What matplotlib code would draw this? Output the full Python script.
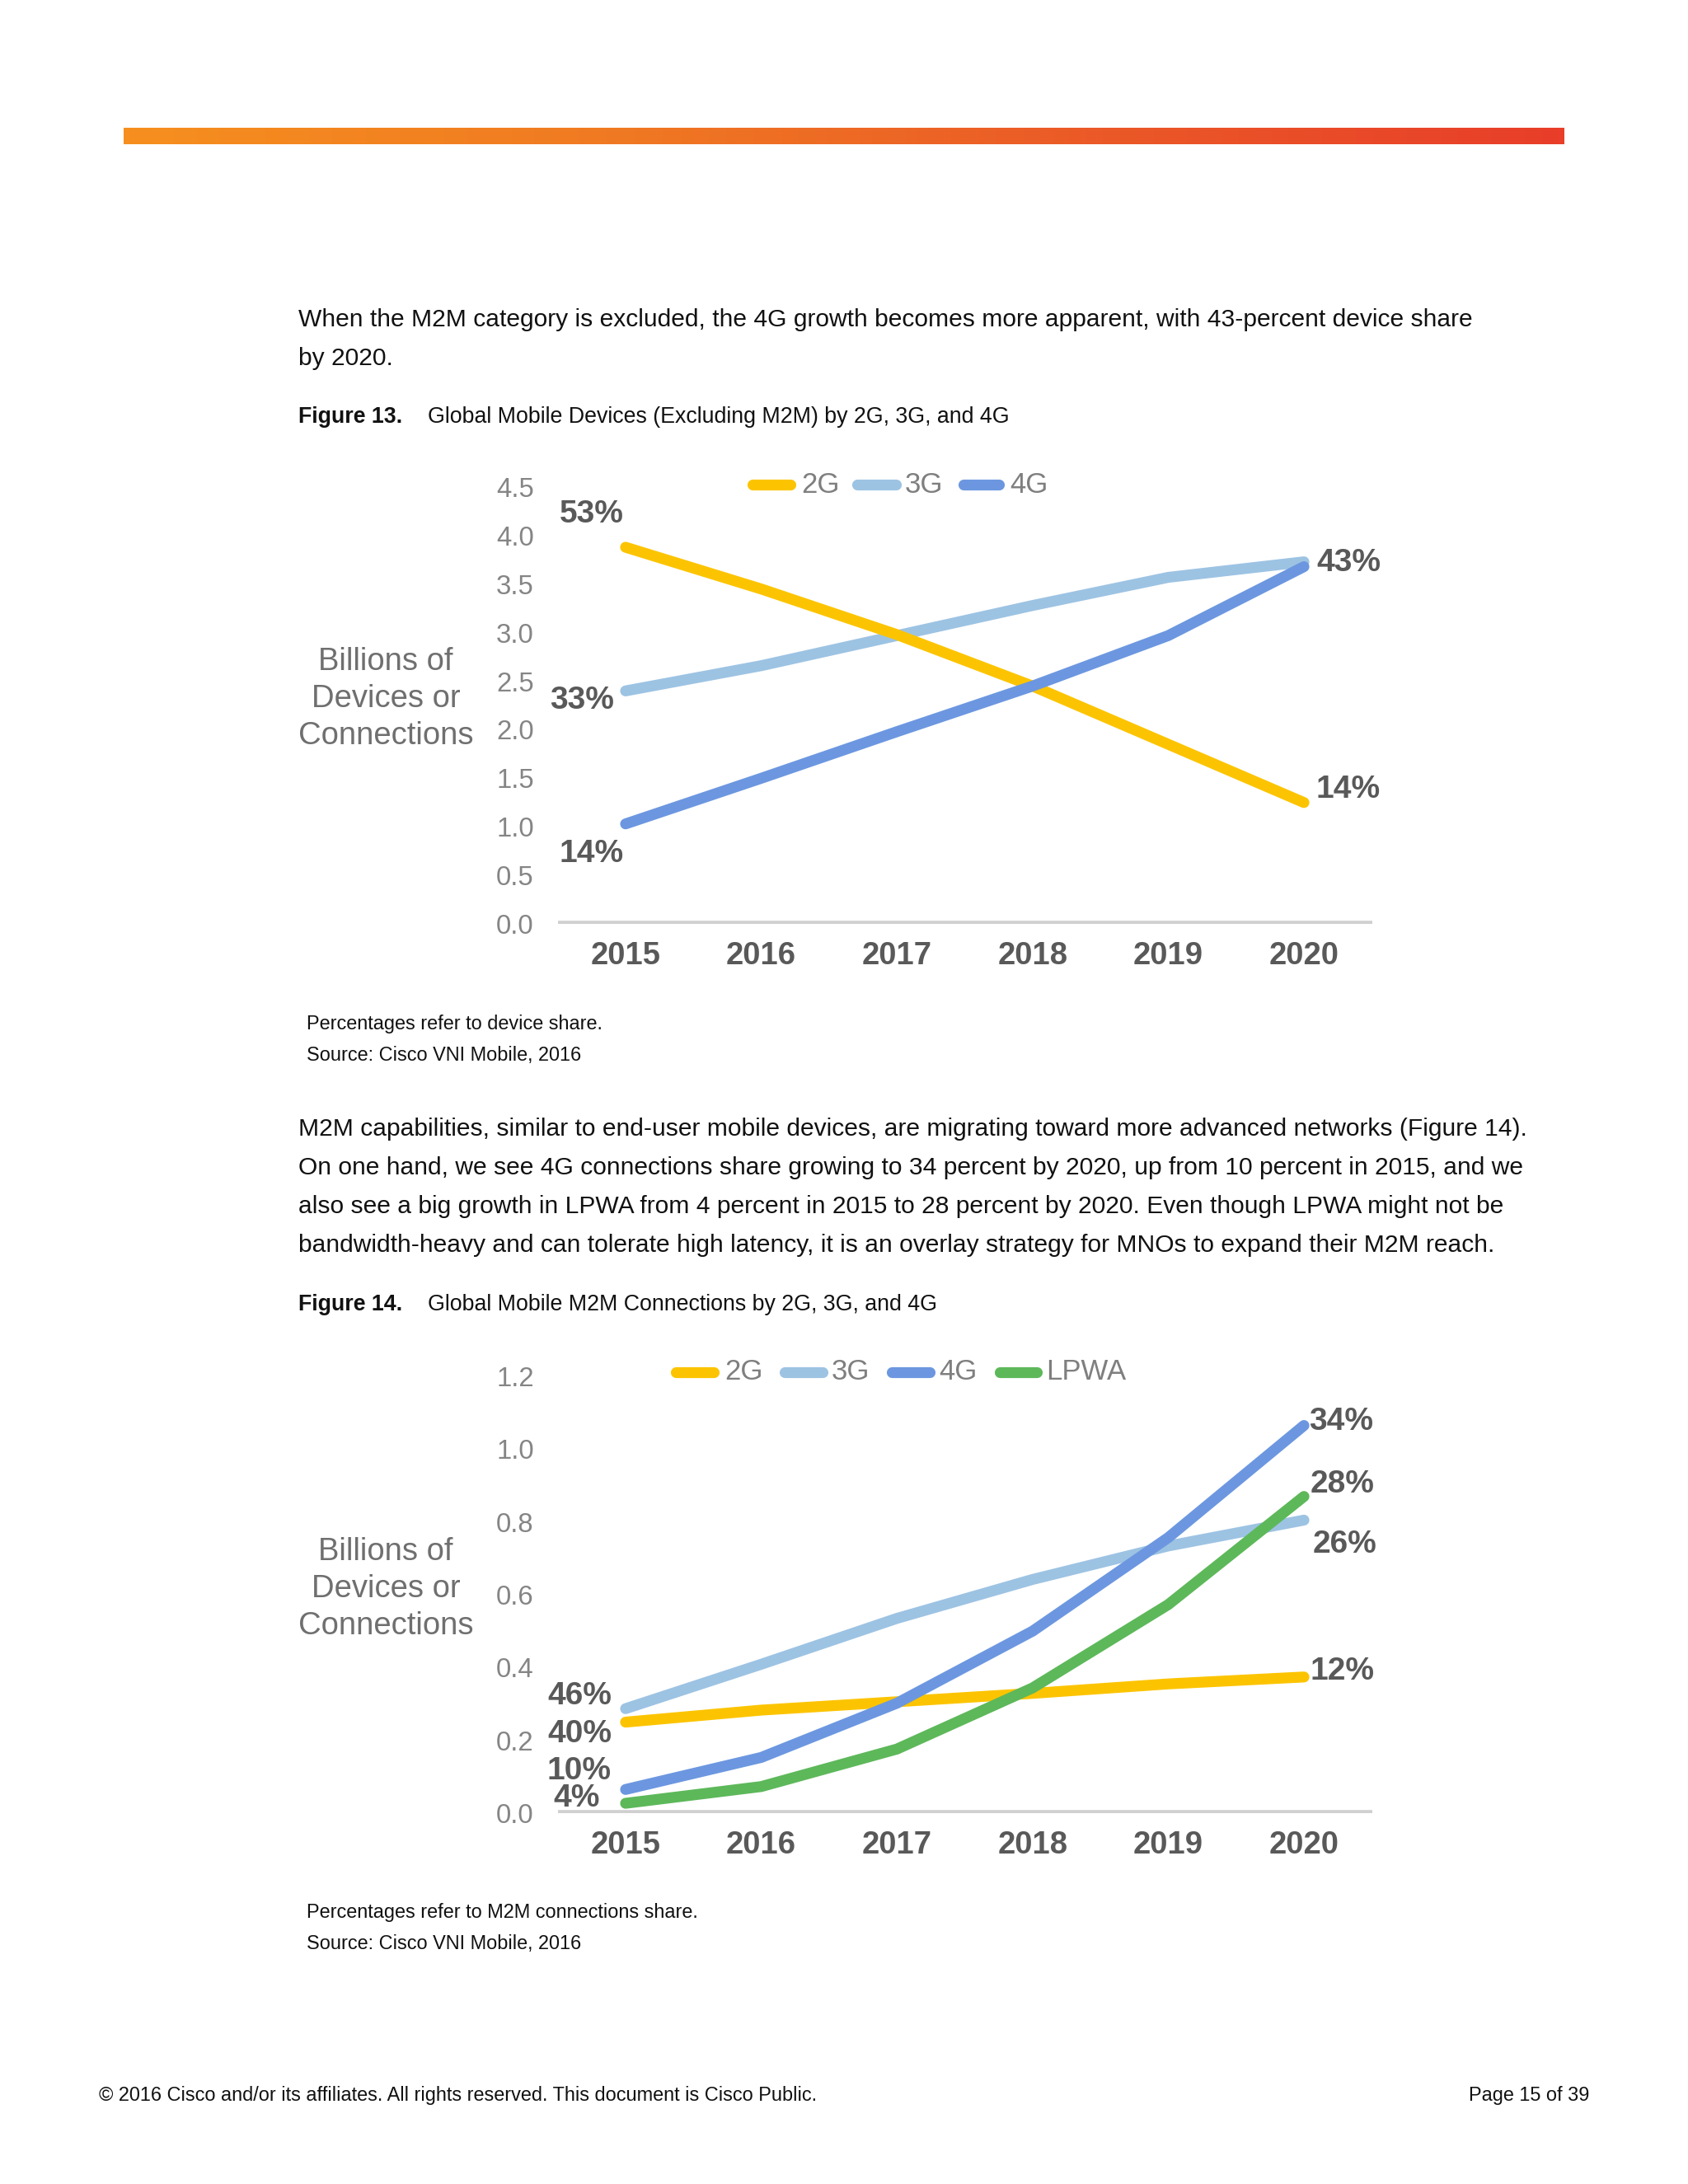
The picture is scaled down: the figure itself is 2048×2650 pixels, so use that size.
import matplotlib
matplotlib.use("Agg")
import matplotlib.pyplot as plt
import numpy as np
from matplotlib.lines import Line2D
from matplotlib.colors import LinearSegmentedColormap

plt.rcParams['font.family'] = ['Liberation Sans', 'DejaVu Sans']

W, H = 2048, 2650

# ---------------- data ----------------
years = [2015, 2016, 2017, 2018, 2019, 2020]

fig13_series = ["2G", "3G", "4G"]
fig13_2g = [3.88, 3.45, 2.98, 2.45, 1.85, 1.25]
fig13_3g = [2.40, 2.66, 2.97, 3.28, 3.57, 3.73]
fig13_4g = [1.03, 1.50, 1.98, 2.45, 2.97, 3.68]
fig13_yticks = [0.0, 0.5, 1.0, 1.5, 2.0, 2.5, 3.0, 3.5, 4.0, 4.5]

fig14_series = ["2G", "3G", "4G", "LPWA"]
fig14_2g = [0.25, 0.283, 0.306, 0.329, 0.355, 0.374]
fig14_3g = [0.287, 0.409, 0.535, 0.642, 0.734, 0.805]
fig14_4g = [0.065, 0.153, 0.302, 0.50, 0.757, 1.065]
fig14_lpwa = [0.027, 0.073, 0.176, 0.344, 0.573, 0.870]
fig14_yticks = [0.0, 0.2, 0.4, 0.6, 0.8, 1.0, 1.2]

colors = {"2G": "#FCC400", "3G": "#9DC3E3", "4G": "#6C97E0", "LPWA": "#5DB85A"}

para1 = ["When the M2M category is excluded, the 4G growth becomes more apparent, with 43-percent device share",
         "by 2020."]
para2 = ["M2M capabilities, similar to end-user mobile devices, are migrating toward more advanced networks (Figure 14).",
         "On one hand, we see 4G connections share growing to 34 percent by 2020, up from 10 percent in 2015, and we",
         "also see a big growth in LPWA from 4 percent in 2015 to 28 percent by 2020. Even though LPWA might not be",
         "bandwidth-heavy and can tolerate high latency, it is an overlay strategy for MNOs to expand their M2M reach."]

# ---------------- helpers ----------------
fig = plt.figure(figsize=(W / 100, H / 100), dpi=100)
fig.patch.set_facecolor("white")


def fx(x):
    return x / W


def fy(y):
    return 1 - y / H


def ftext(x, y, s, **kw):
    fig.text(fx(x), fy(y), s, **kw)


def add_axes_px(left, top, right, bottom):
    return fig.add_axes([fx(left), fy(bottom), (right - left) / W, (bottom - top) / H])


# ---------------- header bar ----------------
bar = add_axes_px(150, 155, 1898, 175)
cmap = LinearSegmentedColormap.from_list("hdr", ["#F68F1F", "#F07A22", "#EB5A27", "#E83E2A"])
bar.imshow(np.linspace(0, 1, 256)[None, :], aspect="auto", cmap=cmap, extent=[0, 1, 0, 1])
bar.set_axis_off()

# ---------------- body text ----------------
body_kw = dict(fontsize=21.65, color="#111111", va="center", ha="left")
for i, line in enumerate(para1):
    ftext(362, 388 + i * 47, line, **body_kw)

cap_kw = dict(fontsize=19.3, color="#111111", va="center", ha="left")
ftext(362, 506, "Figure 13.", fontweight="bold", **cap_kw)
ftext(519, 506, "Global Mobile Devices (Excluding M2M) by 2G, 3G, and 4G", **cap_kw)

for i, line in enumerate(para2):
    ftext(362, 1370 + i * 47, line, **body_kw)

ftext(362, 1583, "Figure 14.", fontweight="bold", **cap_kw)
ftext(519, 1583, "Global Mobile M2M Connections by 2G, 3G, and 4G", **cap_kw)

note_kw = dict(fontsize=16.9, color="#111111", va="center", ha="left")
ftext(372, 1243, "Percentages refer to device share.", **note_kw)
ftext(372, 1280, "Source: Cisco VNI Mobile, 2016", **note_kw)
ftext(372, 2321, "Percentages refer to M2M connections share.", **note_kw)
ftext(372, 2358, "Source: Cisco VNI Mobile, 2016", **note_kw)

foot_kw = dict(fontsize=16.9, color="#111111", va="center")
ftext(120, 2542, "\u00a9 2016 Cisco and/or its affiliates. All rights reserved. This document is Cisco Public.", ha="left", **foot_kw)
ftext(1928, 2542, "Page 15 of 39", ha="right", **foot_kw)

# ---------------- chart helper ----------------
LW = 9.5
TICK_GRAY = "#858585"
DARK_GRAY = "#595959"


def setup_chart(ax, ymax, yticks, fmt):
    ax.set_xlim(2014.502, 2020.504)
    ax.set_ylim(0, ymax)
    ax.patch.set_alpha(0)
    for s in ax.spines.values():
        s.set_visible(False)
    ax.axhline(0, color="#d0d0d0", lw=5.5, zorder=1, solid_capstyle="butt")
    ax.set_yticks(yticks)
    ax.set_yticklabels([fmt.format(v) for v in yticks])
    ax.tick_params(axis="y", length=0, pad=21, labelsize=23.7, labelcolor=TICK_GRAY)
    ax.set_xticks(years)
    ax.set_xticklabels([str(y) for y in years], fontweight="bold")
    ax.tick_params(axis="x", length=0, pad=15, labelsize=27.5, labelcolor=DARK_GRAY)


def legend_px(items, y):
    for name, x1, x2, xt in items:
        fig.add_artist(Line2D([fx(x1 + 6), fx(x2 - 6)], [fy(y), fy(y)], transform=fig.transFigure,
                              color=colors[name], lw=LW, solid_capstyle="round"))
        ftext(xt, y, name, fontsize=25, color="#7f7f7f", ha="left", va="center")


def ylabel_px(yc):
    for i, t in enumerate(["Billions of", "Devices or", "Connections"]):
        ftext(468, yc + (i - 1) * 45, t, fontsize=27.5, color="#6f6f6f", ha="center", va="center")


# ---------------- Figure 13 chart ----------------
ax1 = add_axes_px(677, 591, 1665, 1121)
setup_chart(ax1, 4.5, fig13_yticks, "{:.1f}")
ax1.plot(years, fig13_3g, color=colors["3G"], lw=LW, solid_capstyle="round", clip_on=False, zorder=3)
ax1.plot(years, fig13_2g, color=colors["2G"], lw=LW, solid_capstyle="round", clip_on=False, zorder=4)
ax1.plot(years, fig13_4g, color=colors["4G"], lw=LW, solid_capstyle="round", clip_on=False, zorder=5)

legend_px([("2G", 907, 965, 972), ("3G", 1034, 1093, 1098), ("4G", 1163, 1218, 1225)], 588)
ylabel_px(848)

pct_kw = dict(fontsize=28, fontweight="bold", color=DARK_GRAY, ha="center", va="center")
ftext(718, 624, "53%", **pct_kw)
ftext(706, 850, "33%", **pct_kw)
ftext(718, 1036, "14%", **pct_kw)
ftext(1636, 683, "43%", **pct_kw)
ftext(1636, 958, "14%", **pct_kw)

# ---------------- Figure 14 chart ----------------
ax2 = add_axes_px(677, 1670, 1665, 2200)
setup_chart(ax2, 1.2, fig14_yticks, "{:.1f}")
ax2.plot(years, fig14_2g, color=colors["2G"], lw=LW, solid_capstyle="round", clip_on=False, zorder=3)
ax2.plot(years, fig14_3g, color=colors["3G"], lw=LW, solid_capstyle="round", clip_on=False, zorder=4)
ax2.plot(years, fig14_4g, color=colors["4G"], lw=LW, solid_capstyle="round", clip_on=False, zorder=5)
ax2.plot(years, fig14_lpwa, color=colors["LPWA"], lw=LW, solid_capstyle="round", clip_on=False, zorder=6)

legend_px([("2G", 814, 872, 879), ("3G", 946, 1004, 1009), ("4G", 1076, 1134, 1139),
           ("LPWA", 1207, 1264, 1269)], 1665)
ylabel_px(1928)

ftext(703, 2058, "46%", **pct_kw)
ftext(703, 2104, "40%", **pct_kw)
ftext(703, 2149, "10%", **pct_kw)
ftext(700, 2182, "4%", **pct_kw)
ftext(1627, 1725, "34%", **pct_kw)
ftext(1629, 1801, "28%", **pct_kw)
ftext(1631, 1874, "26%", **pct_kw)
ftext(1629, 2028, "12%", **pct_kw)

fig.savefig("out.png", dpi=100, facecolor="white")
